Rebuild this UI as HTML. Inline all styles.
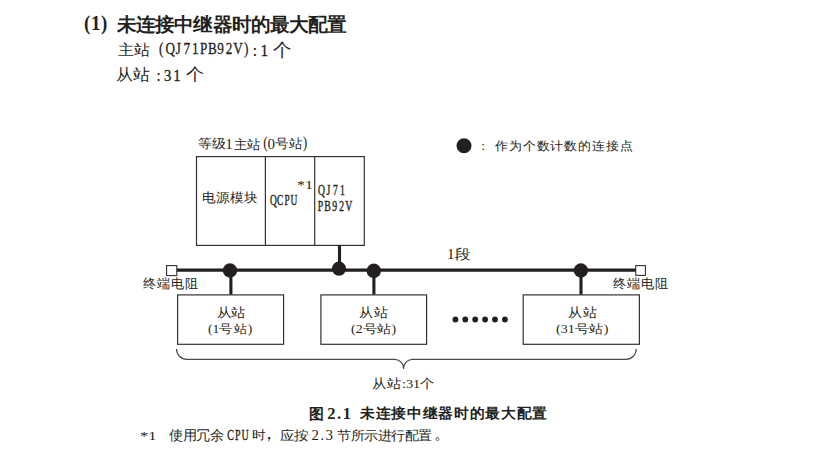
<!DOCTYPE html>
<html><head><meta charset="utf-8">
<style>
html,body{margin:0;padding:0;background:#fff;width:821px;height:457px;overflow:hidden;}
body{position:relative;color:#231f20;}
.t{position:absolute;white-space:pre;line-height:1;transform-origin:0 0;}
svg{position:absolute;left:0;top:0;}
.c{display:inline-block;text-align:center;}
</style></head><body>
<svg width="821" height="457" viewBox="0 0 821 457">
  <g fill="none" stroke="#333">
    <rect x="196.5" y="156.6" width="167.8" height="88.8" stroke-width="1.2"/>
    <line x1="265.4" y1="156.6" x2="265.4" y2="245.4" stroke-width="1.2"/>
    <line x1="314.7" y1="156.6" x2="314.7" y2="245.4" stroke-width="1.2"/>
    <rect x="177.6" y="294.9" width="106" height="49.4" stroke-width="1.2"/>
    <rect x="320.9" y="294.9" width="105.7" height="49.4" stroke-width="1.2"/>
    <rect x="523.2" y="294.9" width="116.2" height="49.4" stroke-width="1.2"/>
    <rect x="166.6" y="265.6" width="10.2" height="10" stroke-width="1.1"/>
    <rect x="635.7" y="265.6" width="9.7" height="9.8" stroke-width="1.1"/>
  </g>
  <g fill="none" stroke="#231f20">
    <line x1="176.8" y1="270.1" x2="635.8" y2="270.1" stroke-width="3.4"/>
    <line x1="339.5" y1="245" x2="339.5" y2="269" stroke-width="3.1"/>
    <line x1="230.9" y1="270" x2="230.9" y2="294.5" stroke-width="3.1"/>
    <line x1="373.9" y1="270" x2="373.9" y2="294.5" stroke-width="3.1"/>
    <line x1="581" y1="270" x2="581" y2="294.5" stroke-width="3.1"/>
  </g>
  <path d="M176.5 349 A10.2 10.2 0 0 0 186.7 359.3 L395 359.3 A9 9 0 0 1 403.6 369 A9 9 0 0 1 412.2 359.3 L626 359.3 A10.2 10.2 0 0 0 636.2 349" fill="none" stroke="#4a4a4a" stroke-width="1.2"/>
  <g fill="#231f20">
    <circle cx="464" cy="145.7" r="7.5"/>
    <circle cx="339" cy="268.7" r="7.1"/>
    <circle cx="230" cy="270.5" r="7.2"/>
    <circle cx="373.8" cy="270.8" r="7.2"/>
    <circle cx="580.9" cy="270.5" r="7.2"/>
    <circle cx="455.4" cy="319.5" r="2.9"/>
    <circle cx="465.3" cy="319.5" r="2.9"/>
    <circle cx="475.2" cy="319.5" r="2.9"/>
    <circle cx="485.1" cy="319.5" r="2.9"/>
    <circle cx="495.0" cy="319.5" r="2.9"/>
    <circle cx="504.9" cy="319.5" r="2.9"/>
  </g>
</svg>

<div class="t" id="t1" style="left:84.07px;top:12.79px;font-size:19px;font-weight:bold;font-family:'Liberation Serif',sans-serif;transform:scale(1.0000,1.0488);letter-spacing:0.5px;-webkit-text-stroke:0px #231f20;">(1)</div>
<div class="t" id="t2" style="left:117.48px;top:15.30px;font-size:19px;font-weight:bold;font-family:'Liberation Sans',sans-serif;transform:scale(1.0060,0.9766);letter-spacing:0px;-webkit-text-stroke:0px #231f20;">未连接中继器时的最大配置</div>
<div class="t" id="a1" style="left:117.52px;top:42.50px;font-size:16px;font-weight:normal;font-family:'Liberation Serif',sans-serif;transform:scale(1.0288,0.9582);letter-spacing:0px;-webkit-text-stroke:0px #231f20;">主站</div>
<div class="t" id="a2" style="left:156.56px;top:40.43px;font-size:16.5px;font-weight:normal;font-family:'Liberation Serif',sans-serif;transform:scale(0.8010,1.0570);letter-spacing:0px;-webkit-text-stroke:0.3px #231f20;"><span class="c" style="width:10.6px">(</span><span class="c" style="width:10.6px">Q</span><span class="c" style="width:10.6px">J</span><span class="c" style="width:10.6px">7</span><span class="c" style="width:10.6px">1</span><span class="c" style="width:10.6px">P</span><span class="c" style="width:10.6px">B</span><span class="c" style="width:10.6px">9</span><span class="c" style="width:10.6px">2</span><span class="c" style="width:10.6px">V</span><span class="c" style="width:10.6px">)</span></div>
<div class="t" id="a3" style="left:250.05px;top:41.81px;font-size:16px;font-weight:normal;font-family:'Liberation Serif',sans-serif;transform:scale(0.9629,1.0846);letter-spacing:0px;-webkit-text-stroke:0.3px #231f20;"><span class="c" style="width:10px">:</span><span class="c" style="width:10px">1</span></div>
<div class="t" id="a4" style="left:272.54px;top:41.78px;font-size:16px;font-weight:normal;font-family:'Liberation Serif',sans-serif;transform:scale(1.1199,1.0975);letter-spacing:0px;-webkit-text-stroke:0px #231f20;">个</div>
<div class="t" id="b1" style="left:115.85px;top:67.01px;font-size:16px;font-weight:normal;font-family:'Liberation Serif',sans-serif;transform:scale(1.0484,0.9896);letter-spacing:0px;-webkit-text-stroke:0px #231f20;">从站</div>
<div class="t" id="b2" style="left:154.45px;top:66.68px;font-size:16px;font-weight:normal;font-family:'Liberation Serif',sans-serif;transform:scale(0.9186,1.0628);letter-spacing:0px;-webkit-text-stroke:0.3px #231f20;"><span class="c" style="width:10px">:</span><span class="c" style="width:10px">3</span><span class="c" style="width:10px">1</span></div>
<div class="t" id="b3" style="left:185.65px;top:66.29px;font-size:16px;font-weight:normal;font-family:'Liberation Serif',sans-serif;transform:scale(1.1534,1.0886);letter-spacing:0px;-webkit-text-stroke:0px #231f20;">个</div>
<div class="t" id="g1" style="left:197.77px;top:136.62px;font-size:13.5px;font-weight:normal;font-family:'Liberation Serif',sans-serif;transform:scale(1.0263,0.9549);letter-spacing:0px;-webkit-text-stroke:0px #231f20;">等级</div>
<div class="t" id="g2" style="left:225.24px;top:137.16px;font-size:15px;font-weight:normal;font-family:'Liberation Serif',sans-serif;transform:scale(1.0000,1.0000);letter-spacing:0px;-webkit-text-stroke:0px #231f20;">1</div>
<div class="t" id="g3" style="left:233.81px;top:138.61px;font-size:13.5px;font-weight:normal;font-family:'Liberation Serif',sans-serif;transform:scale(0.9631,0.9321);letter-spacing:0px;-webkit-text-stroke:0px #231f20;">主站</div>
<div class="t" id="g4" style="left:263.14px;top:134.57px;font-size:13.5px;font-weight:normal;font-family:'Liberation Serif',sans-serif;transform:scale(1.0000,1.1883);letter-spacing:0px;-webkit-text-stroke:0px #231f20;">(</div>
<div class="t" id="g5" style="left:267.49px;top:137.02px;font-size:15px;font-weight:normal;font-family:'Liberation Serif',sans-serif;transform:scale(1.0000,1.0000);letter-spacing:0px;-webkit-text-stroke:0px #231f20;">0</div>
<div class="t" id="g6" style="left:275.24px;top:137.50px;font-size:13.5px;font-weight:normal;font-family:'Liberation Serif',sans-serif;transform:scale(0.9742,0.9290);letter-spacing:0px;-webkit-text-stroke:0px #231f20;">号站</div>
<div class="t" id="g7" style="left:302.75px;top:134.25px;font-size:13.5px;font-weight:normal;font-family:'Liberation Serif',sans-serif;transform:scale(1.0000,1.3054);letter-spacing:0px;-webkit-text-stroke:0px #231f20;">)</div>
<div class="t" id="p1" style="left:201.83px;top:192.24px;font-size:13.5px;font-weight:normal;font-family:'Liberation Serif',sans-serif;transform:scale(0.9975,0.9501);letter-spacing:0px;-webkit-text-stroke:0px #231f20;">电源模块</div>
<div class="t" id="q1" style="left:270.17px;top:192.93px;font-size:14.5px;font-weight:normal;font-family:'Liberation Serif',sans-serif;transform:scale(0.6506,0.9878);letter-spacing:0px;-webkit-text-stroke:0.4px #231f20;"><span class="c" style="width:10.5px">Q</span><span class="c" style="width:10.5px">C</span><span class="c" style="width:10.5px">P</span><span class="c" style="width:10.5px">U</span></div>
<div class="t" id="q2" style="left:296.88px;top:179.39px;font-size:15px;font-weight:normal;font-family:'Liberation Serif',sans-serif;transform:scale(1.0603,0.8489);letter-spacing:0px;-webkit-text-stroke:0px #231f20;">*1</div>
<div class="t" id="q3" style="left:318.17px;top:183.82px;font-size:14.5px;font-weight:normal;font-family:'Liberation Serif',sans-serif;transform:scale(0.6631,0.9363);letter-spacing:0px;-webkit-text-stroke:0.4px #231f20;"><span class="c" style="width:10.5px">Q</span><span class="c" style="width:10.5px">J</span><span class="c" style="width:10.5px">7</span><span class="c" style="width:10.5px">1</span></div>
<div class="t" id="q4" style="left:317.05px;top:199.30px;font-size:14.5px;font-weight:normal;font-family:'Liberation Serif',sans-serif;transform:scale(0.6718,0.9933);letter-spacing:0px;-webkit-text-stroke:0.4px #231f20;"><span class="c" style="width:10.5px">P</span><span class="c" style="width:10.5px">B</span><span class="c" style="width:10.5px">9</span><span class="c" style="width:10.5px">2</span><span class="c" style="width:10.5px">V</span></div>
<div class="t" id="l1" style="left:481.25px;top:139.48px;font-size:13.5px;font-weight:normal;font-family:'Liberation Serif',sans-serif;transform:scale(1.0000,1.0000);letter-spacing:0px;-webkit-text-stroke:0px #231f20;">:</div>
<div class="t" id="l2" style="left:494.58px;top:140.31px;font-size:13.5px;font-weight:normal;font-family:'Liberation Serif',sans-serif;transform:scale(0.9898,0.9215);letter-spacing:0px;-webkit-text-stroke:0px #231f20;">作为个数计数的连接点</div>
<div class="t" id="sg" style="left:446.76px;top:247.62px;font-size:13.5px;font-weight:normal;font-family:'Liberation Serif',sans-serif;transform:scale(1.1228,1.0044);letter-spacing:0px;-webkit-text-stroke:0px #231f20;">1段</div>
<div class="t" id="tl" style="left:143.29px;top:276.87px;font-size:13.5px;font-weight:normal;font-family:'Liberation Serif',sans-serif;transform:scale(0.9932,0.9776);letter-spacing:0px;-webkit-text-stroke:0px #231f20;">终端电阻</div>
<div class="t" id="tr" style="left:613.19px;top:276.81px;font-size:13.5px;font-weight:normal;font-family:'Liberation Serif',sans-serif;transform:scale(0.9902,0.9678);letter-spacing:0px;-webkit-text-stroke:0px #231f20;">终端电阻</div>
<div class="t" id="s1a" style="left:216.64px;top:306.66px;font-size:13.5px;font-weight:normal;font-family:'Liberation Serif',sans-serif;transform:scale(1.0354,0.9333);letter-spacing:0px;-webkit-text-stroke:0px #231f20;">从站</div>
<div class="t" id="s1b" style="left:208.17px;top:323.12px;font-size:13.5px;font-weight:normal;font-family:'Liberation Serif',sans-serif;transform:scale(1.0118,0.9130);letter-spacing:0px;-webkit-text-stroke:0px #231f20;">(1号站)</div>
<div class="t" id="s2a" style="left:359.44px;top:306.30px;font-size:13.5px;font-weight:normal;font-family:'Liberation Serif',sans-serif;transform:scale(1.0358,0.9558);letter-spacing:0px;-webkit-text-stroke:0px #231f20;">从站</div>
<div class="t" id="s2b" style="left:351.38px;top:323.35px;font-size:13.5px;font-weight:normal;font-family:'Liberation Serif',sans-serif;transform:scale(1.0297,0.8641);letter-spacing:0px;-webkit-text-stroke:0px #231f20;">(2号站)</div>
<div class="t" id="s3a" style="left:568.05px;top:306.30px;font-size:13.5px;font-weight:normal;font-family:'Liberation Serif',sans-serif;transform:scale(1.0358,0.9558);letter-spacing:0px;-webkit-text-stroke:0px #231f20;">从站</div>
<div class="t" id="s3b" style="left:555.61px;top:323.31px;font-size:13.5px;font-weight:normal;font-family:'Liberation Serif',sans-serif;transform:scale(1.0373,0.8785);letter-spacing:0px;-webkit-text-stroke:0px #231f20;">(31号站)</div>
<div class="t" id="cn" style="left:371.76px;top:376.55px;font-size:13.5px;font-weight:normal;font-family:'Liberation Serif',sans-serif;transform:scale(1.0671,0.9747);letter-spacing:0px;-webkit-text-stroke:0px #231f20;">从站:31个</div>
<div class="t" id="c1" style="left:308.69px;top:405.51px;font-size:15.5px;font-weight:bold;font-family:'Liberation Sans',sans-serif;transform:scale(0.9753,0.9836);letter-spacing:0px;-webkit-text-stroke:0px #231f20;">图</div>
<div class="t" id="c2" style="left:327.25px;top:405.50px;font-size:16.5px;font-weight:bold;font-family:'Liberation Serif',sans-serif;transform:scale(1.0000,1.0220);letter-spacing:1.6px;-webkit-text-stroke:0px #231f20;">2.1</div>
<div class="t" id="c3" style="left:360.16px;top:406.47px;font-size:15.5px;font-weight:bold;font-family:'Liberation Sans',sans-serif;transform:scale(0.9782,0.9328);letter-spacing:0px;-webkit-text-stroke:0px #231f20;">未连接中继器时的最大配置</div>
<div class="t" id="f1" style="left:139.73px;top:429.47px;font-size:13.3px;font-weight:normal;font-family:'Liberation Serif',sans-serif;transform:scale(1.2326,0.9857);letter-spacing:0px;-webkit-text-stroke:0px #231f20;">*1</div>
<div class="t" id="f2" style="left:169.21px;top:428.78px;font-size:13.3px;font-weight:normal;font-family:'Liberation Serif',sans-serif;transform:scale(1.0412,1.0275);letter-spacing:0px;-webkit-text-stroke:0px #231f20;">使用冗余</div>
<div class="t" id="f3" style="left:226.87px;top:428.56px;font-size:14px;font-weight:normal;font-family:'Liberation Serif',sans-serif;transform:scale(0.7118,1.0404);letter-spacing:0px;-webkit-text-stroke:0.35px #231f20;"><span class="c" style="width:10.2px">C</span><span class="c" style="width:10.2px">P</span><span class="c" style="width:10.2px">U</span></div>
<div class="t" id="f4" style="left:251.60px;top:428.78px;font-size:13.3px;font-weight:normal;font-family:'Liberation Serif',sans-serif;transform:scale(1.0570,0.9216);letter-spacing:0px;-webkit-text-stroke:0px #231f20;">时</div>
<div class="t" id="f5" style="left:260.47px;top:424.25px;font-size:18px;font-weight:normal;font-family:'Liberation Serif',sans-serif;transform:scale(1.0000,1.0000);letter-spacing:0px;-webkit-text-stroke:0px #231f20;">，</div>
<div class="t" id="f6" style="left:279.56px;top:429.02px;font-size:13.3px;font-weight:normal;font-family:'Liberation Serif',sans-serif;transform:scale(1.0974,0.9669);letter-spacing:0px;-webkit-text-stroke:0px #231f20;">应按</div>
<div class="t" id="f7" style="left:311.57px;top:427.96px;font-size:15px;font-weight:normal;font-family:'Liberation Serif',sans-serif;transform:scale(1.0000,0.9772);letter-spacing:1.3px;-webkit-text-stroke:0px #231f20;">2.3</div>
<div class="t" id="f8" style="left:337.11px;top:428.92px;font-size:13.3px;font-weight:normal;font-family:'Liberation Serif',sans-serif;transform:scale(1.0440,0.9682);letter-spacing:0px;-webkit-text-stroke:0px #231f20;">节所示进行配置</div>
<div class="t" id="f9" style="left:433.50px;top:425.80px;font-size:16px;font-weight:normal;font-family:'Liberation Serif',sans-serif;transform:scale(1.0000,1.0000);letter-spacing:0px;-webkit-text-stroke:0px #231f20;">。</div>
</body></html>
